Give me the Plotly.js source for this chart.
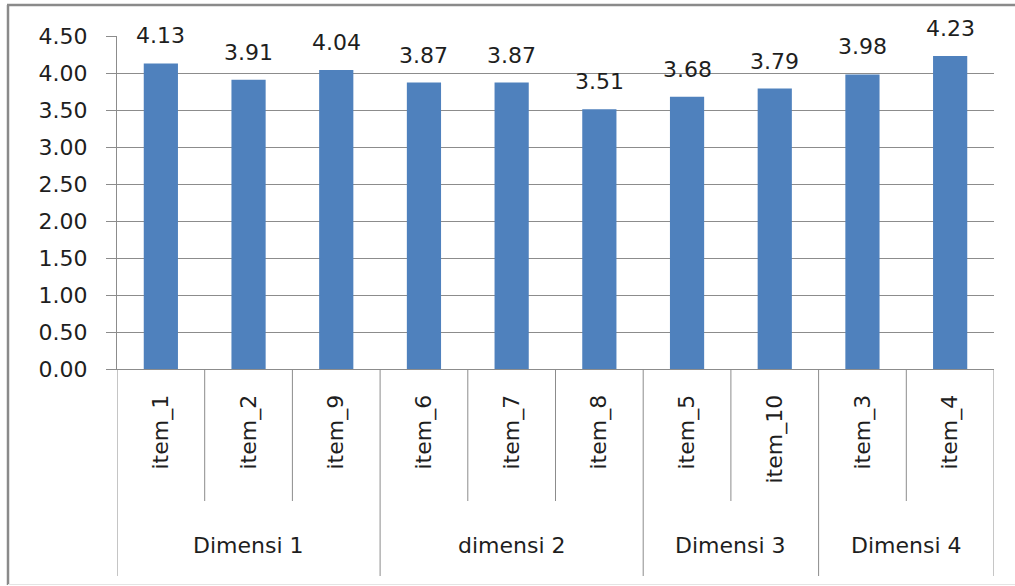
<!DOCTYPE html>
<html>
<head>
<meta charset="utf-8">
<script src="https://cdn.plot.ly/plotly-3.0.1.min.js"></script>
<style>html,body{margin:0;padding:0;background:#fff;}#chart{width:1015px;height:586px;}</style>
</head>
<body>
<div id="chart"></div>
<script>
// Data
const items = ['item_1','item_2','item_9','item_6','item_7','item_8','item_5','item_10','item_3','item_4'];
const groups = ['Dimensi 1','Dimensi 1','Dimensi 1','dimensi 2','dimensi 2','dimensi 2','Dimensi 3','Dimensi 3','Dimensi 4','Dimensi 4'];
const values = [4.13, 3.91, 4.04, 3.87, 3.87, 3.51, 3.68, 3.79, 3.98, 4.23];
const valueLabels = ['4.13','3.91','4.04','3.87','3.87','3.51','3.68','3.79','3.98','4.23'];
const yTickVals = [0, 0.5, 1, 1.5, 2, 2.5, 3, 3.5, 4, 4.5];
const yTickText = ['0.00','0.50','1.00','1.50','2.00','2.50','3.00','3.50','4.00','4.50'];

const W = 1015, H = 586;
const mL = 117, mR = 21, mT = 36, mB = 217;
const plotW = W - mL - mR, plotH = H - mT - mB;
const px2paperX = p => (p - mL) / plotW;
const px2paperY = p => (H - mB - p) / plotH;

const font = 'DejaVu Sans, sans-serif';
const fs = 22;
const txtColor = '#1e1e1e';
const lineColor = '#8c8c8c';

const shapes = [];
const annotations = [];

// category dividers
for (let i = 0; i <= items.length; i++) {
  const isGroupEdge = (i === 0 || i === items.length || groups[i] !== groups[i - 1]);
  shapes.push({
    type: 'line', xref: 'x', yref: 'paper',
    x0: i - 0.5, x1: i - 0.5,
    y0: 0, y1: px2paperY(isGroupEdge ? 576 : 501),
    line: {color: lineColor, width: 1}
  });
}

// group labels
const uniq = [];
groups.forEach((g, i) => {
  if (!uniq.length || uniq[uniq.length - 1].name !== g) uniq.push({name: g, start: i, end: i});
  else uniq[uniq.length - 1].end = i;
});
uniq.forEach(g => {
  annotations.push({
    xref: 'x', yref: 'paper', x: (g.start + g.end) / 2, y: px2paperY(545),
    text: g.name, showarrow: false, xanchor: 'center', yanchor: 'middle',
    font: {family: font, size: fs, color: txtColor}
  });
});

// value labels
items.forEach((it, i) => {
  annotations.push({
    xref: 'x', yref: 'y', x: it, y: values[i],
    text: valueLabels[i], showarrow: false, xanchor: 'center', yanchor: 'bottom',
    yshift: 13, font: {family: font, size: fs, color: txtColor}
  });
});

// outer border
shapes.push({type: 'line', xref: 'paper', yref: 'paper',
  x0: px2paperX(8), x1: px2paperX(8), y0: px2paperY(5), y1: px2paperY(585),
  line: {color: '#8a8a8a', width: 2.5}});
shapes.push({type: 'line', xref: 'paper', yref: 'paper',
  x0: px2paperX(7), x1: px2paperX(1016), y0: px2paperY(5), y1: px2paperY(5),
  line: {color: '#8a8a8a', width: 2.5}});
shapes.push({type: 'line', xref: 'paper', yref: 'paper',
  x0: px2paperX(8), x1: px2paperX(1016), y0: px2paperY(584.5), y1: px2paperY(584.5),
  line: {color: '#e4e4e4', width: 1}});

const trace = {
  type: 'bar', x: items, y: values,
  marker: {color: '#4F81BD', line: {width: 0}},
  width: 0.39,
  hoverinfo: 'x+y'
};

const layout = {
  width: W, height: H,
  margin: {l: mL, r: mR, t: mT, b: mB, pad: 0},
  paper_bgcolor: '#fff', plot_bgcolor: '#fff',
  showlegend: false,
  xaxis: {
    type: 'category', range: [-0.5, items.length - 0.5],
    tickangle: -90, ticks: '', showgrid: false,
    ticklabelstandoff: 16,
    tickfont: {family: font, size: fs, color: txtColor},
    showline: true, linecolor: lineColor, linewidth: 1,
    zeroline: false, fixedrange: true
  },
  yaxis: {
    range: [0, 4.5], tickvals: yTickVals, ticktext: yTickText,
    ticks: 'outside', ticklen: 10, tickcolor: lineColor, tickwidth: 1,
    ticklabelstandoff: 14,
    tickfont: {family: font, size: fs, color: txtColor},
    showgrid: true, gridcolor: lineColor, gridwidth: 1,
    showline: true, linecolor: lineColor, linewidth: 1,
    zeroline: false, fixedrange: true
  },
  shapes: shapes,
  annotations: annotations
};

Plotly.newPlot('chart', [trace], layout, {displayModeBar: false, staticPlot: true});
</script>
</body>
</html>
